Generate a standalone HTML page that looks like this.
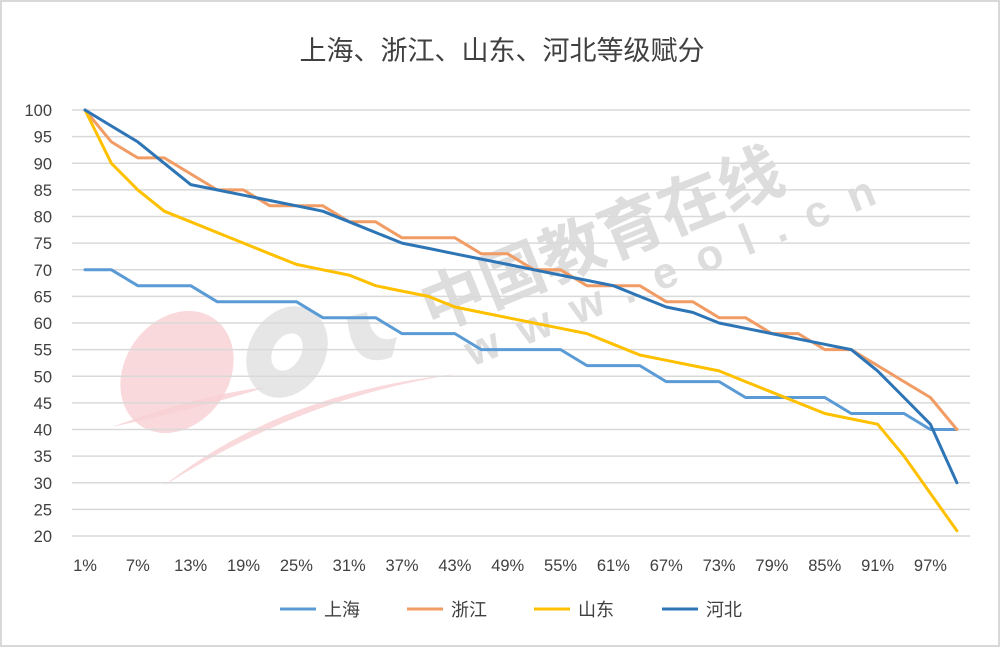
<!DOCTYPE html>
<html><head><meta charset="utf-8">
<style>
html,body{margin:0;padding:0;background:#fff;}
#wrap{position:relative;width:1000px;height:647px;box-sizing:border-box;border:2px solid #d9d9d9;background:#fff;overflow:hidden;}
svg{position:absolute;left:0;top:0;}
text{font-family:"Liberation Sans","Noto Sans CJK SC",sans-serif;}
</style></head>
<body>
<div id="wrap">
<svg id="chart" width="1000" height="647">
  <g>
    <ellipse cx="175" cy="370" rx="52" ry="65" transform="rotate(35 175 370)" fill="#f8d0d2" opacity="0.8"/>
    <path d="M160 485 Q280 390 455 372 Q300 395 160 485Z" fill="#f8d0d2" opacity="0.8"/>
    <path d="M110 425 Q200 392 265 385 Q200 405 110 425Z" fill="#f8d0d2" opacity="0.8"/>
    <ellipse cx="285" cy="350" rx="38" ry="48" transform="rotate(30 285 350)" fill="#dcdcdc" opacity="0.7"/>
    <ellipse cx="285" cy="350" rx="14" ry="20" transform="rotate(30 285 350)" fill="#fff"/>
    <path d="M345 315 Q350 370 390 355 L395 335 Q370 345 365 310Z" fill="#dcdcdc" opacity="0.7"/>
    <text x="430" y="330" font-size="64" font-weight="bold" fill="#ddd" transform="rotate(-22 430 330)">中国教育在线</text>
    <text x="470" y="365" font-size="44" font-weight="bold" fill="#ddd" letter-spacing="22" transform="rotate(-22 470 365)">www.eol.cn</text>
  </g>
  <text x="500" y="58" text-anchor="middle" font-size="27" fill="#404040">上海、浙江、山东、河北等级赋分</text>
  <g id="grid"></g>
  <g id="yticks"></g>
  <g id="xticks"></g>
  <g id="lines"></g>
  <g id="legend"></g>
</svg>
</div>
<script>
const categories = [];
for (let p = 1; p <= 100; p += 3) categories.push(p + '%');
const yTicks = [20,25,30,35,40,45,50,55,60,65,70,75,80,85,90,95,100];
const seriesNames = ['上海','浙江','山东','河北'];
const seriesColors = ['#5b9bd5','#f19c65','#ffc000','#2e75b6'];
const shanghai = [70,70,67,67,67,64,64,64,64,61,61,61,58,58,58,55,55,55,55,52,52,52,49,49,49,46,46,46,46,43,43,43,40,40];
const zhejiang = [100,94,91,91,88,85,85,82,82,82,79,79,76,76,76,73,73,70,70,67,67,67,64,64,61,61,58,58,55,55,52,49,46,40];
const shandong = [100,90,85,81,79,77,75,73,71,70,69,67,66,65,63,62,61,60,59,58,56,54,53,52,51,49,47,45,43,42,41,35,28,21];
const hebei = [100,97,94,90,86,85,84,83,82,81,79,77,75,74,73,72,71,70,69,68,67,65,63,62,60,59,58,57,56,55,51,46,41,30];
const seriesData = [shanghai, zhejiang, shandong, hebei];

const NS = 'http://www.w3.org/2000/svg';
const X0 = 83, XSTEP = 26.42, YTOP = 108, YBOT = 534, VMIN = 20, VMAX = 100;
function xScale(i){ return X0 + i * XSTEP; }
function yScale(v){ return YBOT - (v - VMIN) / (VMAX - VMIN) * (YBOT - YTOP); }
function mk(tag, attrs, parent){ const e = document.createElementNS(NS, tag); for (const k in attrs) e.setAttribute(k, attrs[k]); parent.appendChild(e); return e; }

const grid = document.getElementById('grid'), yt = document.getElementById('yticks'), xt = document.getElementById('xticks');
yTicks.forEach(v => {
  const l = mk('line', {x1:70, x2:968, y1:yScale(v), y2:yScale(v), stroke:'#d9d9d9', 'stroke-width':1.5}, grid);
  
  
  const t = mk('text', {x:50, y:yScale(v) + 6, 'text-anchor':'end', 'font-size':16.5, fill:'#404040'}, yt);
  t.textContent = v;
  
  
});
categories.forEach((c, i) => {
  if (i % 2 !== 0) return;
  const t = mk('text', {x:xScale(i), y:569, 'text-anchor':'middle', 'font-size':16.5, fill:'#404040'}, xt);
  t.textContent = c;
  
  
});
const lines = document.getElementById('lines');
seriesData.forEach((d, s) => {
  const pts = d.map((v, i) => xScale(i).toFixed(1) + ',' + yScale(v).toFixed(1)).join(' ');
  const pl = mk('polyline', {points:pts, fill:'none', stroke:seriesColors[s], 'stroke-width':3, 'stroke-linejoin':'round', 'stroke-linecap':'round'}, lines);
  
  
});
const lg = document.getElementById('legend');
const lx = [278, 405, 532, 660];
seriesNames.forEach((n, s) => {
  const g = mk('g', {}, lg);
  
  
  mk('line', {x1:lx[s], x2:lx[s] + 36, y1:607, y2:607, stroke:seriesColors[s], 'stroke-width':3}, g);
  const t = mk('text', {x:lx[s] + 44, y:614, 'font-size':18, fill:'#404040'}, g);
  t.textContent = n;
});
</script>
</body></html>
